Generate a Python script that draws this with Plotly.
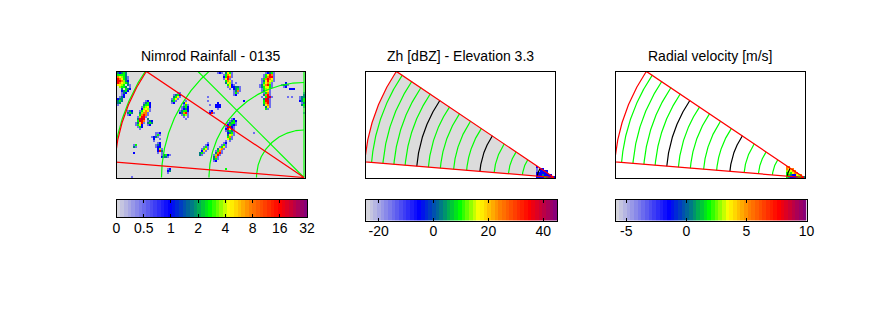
import numpy as np
import plotly.graph_objects as go

# Radar geometry, km from the radar. One km is 190/150 of a pixel
MAX_RANGE = 150
SECTOR_ANGLES = [145.9, 175.3]  # degrees, anticlockwise from east
RAIN_RINGS = [37.5, 75, 112.5, 150.8]
RAIN_RAYS = [135, 90]
RAY_LENGTH = 220
SCAN_RINGS = [144.5, 135.5, 126.8, 117.9, 108.7, 99.5, 90, 79.5, 69.2, 58.7, 47.4, 36.1, 25, 13.2]
BLACK_RINGS = [108.7, 58.7, 13.2]

TITLES = ["Nimrod Rainfall - 0135", "Zh [dBZ] - Elevation 3.3", "Radial velocity [m/s]"]

RAIN_TICKS = ["0", "0.5", "1", "2", "4", "8", "16", "32"]
ZH_TICKS = [-20, 0, 20, 40]
VEL_TICKS = [-5, 0, 5, 10]
ZH_LIMITS = [-24.6, 45]
VEL_LIMITS = [-5.9, 10]

COLORS = [
    [0.0, "#dcdcdc"],
    [0.28, "#0000ff"],
    [0.40, "#008080"],
    [0.49, "#00ff00"],
    [0.59, "#ffff00"],
    [0.70, "#ff8000"],
    [0.855, "#ff0000"],
    [1.0, "#800080"],
]

# colour level of each character, as a fraction of the colour bar
LEVELS = {"1": 0.14, "2": 0.28, "3": 0.40, "4": 0.49, "5": 0.55, "6": 0.60, "7": 0.70, "8": 0.85, "9": 0.93}

# echoes as (col, row, rows of levels) on a 2 px grid, row 0 at the top of the frame
RAIN_ECHOES = [
    (0, 0, ["32343", "44443", "765431", "876431", "887532", "876543", "6654 31", " 5443 1", "  3 432", "  2342", "  132", "  12", " 132", "233", "343", "33", "1"]),
    (5, 19, ["132", "343", "12"]),
    (9, 14, ["     12", "    1342", "    3442", "   14562", "   25651", "  146761", "  35771", "  47871", " 15881", " 3898 3", " 4987 132", "13681 343", "1462  12", " 142", "  1"]),
    (27, 10, ["   11", " 1342", " 3461", "1461", "341", "12"]),
    (31, 14, ["   1", "  26", "  141", " 1342", " 1232", "13442", "23781", " 1451", "  1 1", "   1"]),
    (49, 15, [" 2", "222", "222", " 1"]),
    (46, 19, ["12", "281"]),
    (54, 23, ["   12", "  1342", " 13441", " 24321", "12821", "28621", "13431", " 2341", " 3651", " 471", " 641", "  1"]),
    (48, 34, ["      1", "     12", "    141", "   1461", "  3671", " 1471", " 3781", "1581", "371", "341", "12"]),
    (41, 35, ["    1", "   12", "  141", " 1461", " 261", "341", "31"]),
    (17, 30, ["  112", "  141", "1231", " 2  1", " 1"]),
    (19, 35, [" 12", "132", "122", " 251", " 283", " 1 1"]),
    (22, 41, ["13421", "2331"]),
    (25, 48, ["12", "23", "1"]),
    (8, 36, ["14", "31"]),
    (8, 40, ["2"]),
    (51, 0, [" 1 3641", "  14761", "  24871", "  1681", "   4761", "   3651 1", "    4621", "    1622331", "     1 2341", "       1371", "       141", "       12"]),
    (71, 0, ["   12341", "  146871", "  147881", " 1478761", " 1368651", " 146751", "1357841", "1346641", " 14561", " 13661", "  1471", "  3781", " 1 4891", "  3891", "  4881", "  4781", "  3671", "   361", "   41"]),
    (91, 10, ["  1", "  2", "132", "1342", "2343", " 122", " 3431", "  14", "   1", "", "  1"]),
    (82, 5, ["  2", "1331", " 12"]),
    (86, 8, ["222"]),
    (85, 12, ["1 1"]),
    (63, 14, ["2"]),
    (46, 16, ["1"]),
    (50, 0, ["12"]),
    (54, 48, ["4"]),
    (68, 30, ["1"]),
    (7, 52, ["1"]),
    (45, 12, ["1"]),
    (45, 14, ["1"]),
]
ZH_ECHOES = [
    (85, 47, ["2"]),
    (85, 48, ["1 22"]),
    (84, 49, [" 1 2222"]),
    (85, 50, ["222222"]),
    (85, 51, ["22232222"]),
    (85, 52, ["2222432222"]),
]
VEL_ECHOES = [
    (85, 47, ["77"]),
    (85, 48, ["7667"]),
    (84, 49, [" 56677"]),
    (85, 50, ["454677"]),
    (85, 51, ["44322657"]),
    (85, 52, ["4322234433"]),
]

GRID_COLS = 96
GRID_ROWS = 54
CELL_KM = 2 * MAX_RANGE / 190

PANELS = [(116.5, 305), (365.5, 555), (615.5, 805)]
FRAME_Y = [71.5, 178]
BAR_X = [(116.5, 307), (366, 557), (615.5, 806.5)]
BAR_Y = [(200, 217), (200, 220.5), (200, 220.5)]
WIDTH, HEIGHT = 889, 333


def echo_grid(echoes):
    grid = np.full((GRID_ROWS, GRID_COLS), np.nan)
    for col, row, lines in echoes:
        for r, line in enumerate(lines):
            for c, char in enumerate(line):
                if char in LEVELS and row + r < GRID_ROWS and col + c < GRID_COLS:
                    grid[row + r, col + c] = LEVELS[char]
    return grid


def arc(radius, start, stop):
    angles = np.radians(np.linspace(start, stop, 200))
    return radius * np.cos(angles), radius * np.sin(angles)


def line_trace(xs, ys, color, axis):
    return go.Scatter(x=xs, y=ys, mode="lines", line=dict(color=color, width=1.2),
                      xaxis=f"x{axis}", yaxis=f"y{axis}", hoverinfo="skip", showlegend=False)


def sector_outline():
    xs, ys = arc(MAX_RANGE, SECTOR_ANGLES[0], SECTOR_ANGLES[1])
    return np.r_[0, xs, 0], np.r_[0, ys, 0]


fig = go.Figure()
layout = {}

for i, (left, right) in enumerate(PANELS):
    axis = 2 * i + 1
    km_per_px = MAX_RANGE / 190
    x_range = [-(right - 1 - left) * km_per_px, km_per_px]
    y_range = [-0.5 * km_per_px, (FRAME_Y[1] - 0.5 - FRAME_Y[0]) * km_per_px]

    outline_x, outline_y = sector_outline()

    echoes = [RAIN_ECHOES, ZH_ECHOES, VEL_ECHOES][i]
    fig.add_trace(go.Heatmap(
        z=echo_grid(echoes)[::-1],
        x0=x_range[0] + CELL_KM / 2, dx=CELL_KM,
        y0=y_range[1] - (GRID_ROWS - 0.5) * CELL_KM, dy=CELL_KM,
        zmin=0, zmax=1, colorscale=COLORS, showscale=False, hoverinfo="skip",
        xaxis=f"x{axis}", yaxis=f"y{axis}",
    ))

    if i == 0:
        for radius in RAIN_RINGS:
            xs, ys = arc(radius, 90, 180)
            fig.add_trace(line_trace(xs, ys, "#00ff00", axis))
        for angle in RAIN_RAYS:
            end_x, end_y = arc(RAY_LENGTH, angle, angle)
            fig.add_trace(line_trace([0, end_x[0]], [0, end_y[0]], "#00ff00", axis))
    else:
        for radius in SCAN_RINGS:
            xs, ys = arc(radius, SECTOR_ANGLES[0], SECTOR_ANGLES[1])
            color = "#000000" if radius in BLACK_RINGS else "#00ff00"
            fig.add_trace(line_trace(xs, ys, color, axis))

    fig.add_trace(line_trace(outline_x, outline_y, "#ff0000", axis))

    frame = dict(showline=True, mirror=True, linecolor="black", linewidth=1, showgrid=False,
                 zeroline=False, showticklabels=False, ticks="")
    layout[f"xaxis{axis}"] = dict(frame, range=x_range, anchor=f"y{axis}",
                                  domain=[left / WIDTH, right / WIDTH])
    layout[f"yaxis{axis}"] = dict(frame, range=y_range, anchor=f"x{axis}",
                                  domain=[1 - FRAME_Y[1] / HEIGHT, 1 - FRAME_Y[0] / HEIGHT])

    fig.add_annotation(text=TITLES[i], x=(left + right) / 2 / WIDTH, y=1 - 56 / HEIGHT,
                       xref="paper", yref="paper", showarrow=False, xanchor="center", yanchor="middle",
                       font=dict(size=14))

# colour bars
bar_limits = [[0, len(RAIN_TICKS) - 1], ZH_LIMITS, VEL_LIMITS]
bar_tickvals = [list(range(len(RAIN_TICKS))), ZH_TICKS, VEL_TICKS]
bar_ticktext = [RAIN_TICKS, [str(t) for t in ZH_TICKS], [str(t) for t in VEL_TICKS]]
STEPS = 52

for i in range(3):
    axis = 2 * i + 2
    low, high = bar_limits[i]
    edges = np.linspace(low, high, STEPS + 1)
    fig.add_trace(go.Heatmap(
        z=[(edges[:-1] + edges[1:]) / 2], x=edges, y=[0, 1],
        zmin=low, zmax=high, colorscale=COLORS, showscale=False, hoverinfo="skip",
        xaxis=f"x{axis}", yaxis=f"y{axis}",
    ))
    left, right = BAR_X[i]
    top, bottom = BAR_Y[i]
    layout[f"xaxis{axis}"] = dict(
        range=[low, high], anchor=f"y{axis}", domain=[left / WIDTH, right / WIDTH],
        tickvals=bar_tickvals[i], ticktext=bar_ticktext[i], ticks="inside", ticklen=3, tickcolor="black",
        showline=True, mirror="ticks", linecolor="black", linewidth=1, showgrid=False, zeroline=False,
        ticklabelstandoff=-2,
        tickfont=dict(size=14),
    )
    layout[f"yaxis{axis}"] = dict(
        range=[0, 1], anchor=f"x{axis}", domain=[1 - bottom / HEIGHT, 1 - top / HEIGHT],
        showticklabels=False, ticks="", showline=True, mirror=True, linecolor="black", linewidth=1,
        showgrid=False, zeroline=False,
    )

fig.update_layout(
    width=WIDTH, height=HEIGHT, margin=dict(l=0, r=0, t=0, b=0, autoexpand=False),
    paper_bgcolor="white", plot_bgcolor="white", showlegend=False,
    font=dict(family="Liberation Sans", color="black"),
    **layout,
)
# the rainfall panel is grey over the whole frame, the Zh panel only inside the sector
fig.add_shape(type="rect", xref="x domain", yref="y domain", x0=0, x1=1, y0=0, y1=1,
              fillcolor="#dcdcdc", line_width=0, layer="below")
sector_x, sector_y = sector_outline()
sector_path = "M" + " L".join(f"{x:.2f},{y:.2f}" for x, y in zip(sector_x, sector_y)) + " Z"
fig.add_shape(type="path", xref="x3", yref="y3", path=sector_path,
              fillcolor="#dcdcdc", line_width=0, layer="below")

# no page margin round the plot
fig.write_html("out.html", config=dict(displayModeBar=False),
               post_script="document.body.style.margin = '0';")
